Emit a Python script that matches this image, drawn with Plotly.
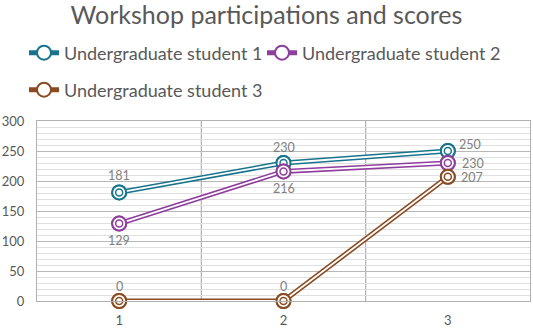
import plotly.graph_objects as go

categories = [1, 2, 3]
names = ["Undergraduate student 1", "Undergraduate student 2", "Undergraduate student 3"]
s1 = [181, 230, 250]
s2 = [129, 216, 230]
s3 = [0, 0, 207]
colors = ["#18748C", "#8E3E9C", "#8A4B22"]
# label placement per series/point: (xanchor, xshift px, yshift px; positive = up)
label_style = [
    [("center", 0, 17), ("center", 0, 16), ("left", 9, 7)],
    [("center", 0, -17), ("center", 0, -17), ("left", 12, 0)],
    [("center", 0, 15), ("center", 0, 15), ("left", 11, -1)],
]
legend_ids = ["legend", "legend", "legend2"]

FONT = "Lato, Noto Sans, sans-serif"
GREY = "#595959"

fig = go.Figure()
annotations = []
for name, ys, col, styles, lg in zip(names, [s1, s2, s3], colors, label_style, legend_ids):
    fig.add_trace(go.Scatter(
        x=categories, y=ys, name=name, mode="lines+markers", legend=lg,
        line=dict(color=col, width=5),
        marker=dict(symbol="circle", size=14, color="white", line=dict(color=col, width=2)),
        cliponaxis=False, showlegend=True))
    fig.add_trace(go.Scatter(
        x=categories, y=ys, mode="lines", line=dict(color="white", width=1.8),
        hoverinfo="skip", showlegend=False, cliponaxis=False))
    fig.add_trace(go.Scatter(
        x=categories, y=ys, mode="markers",
        marker=dict(symbol="circle", size=14, color="white", line=dict(color=col, width=2)),
        hoverinfo="skip", showlegend=False, cliponaxis=False))
    fig.add_trace(go.Scatter(
        x=categories, y=ys, mode="markers",
        marker=dict(symbol="circle-open", size=7, color=col, line=dict(color=col, width=1.5)),
        hoverinfo="skip", showlegend=False, cliponaxis=False))
    for xv, yv, (xa, xs, ysh) in zip(categories, ys, styles):
        annotations.append(dict(x=xv, y=yv, xref="x", yref="y", text=str(yv), showarrow=False,
                                xanchor=xa, yanchor="middle", xshift=xs, yshift=ysh,
                                font=dict(size=12.5, color="#808080", family=FONT)))

shapes = []
for xv in [1.5, 2.5]:
    shapes.append(dict(type="line", xref="x", yref="paper", x0=xv, x1=xv, y0=0, y1=1,
                       line=dict(color="#B0B0B0", width=1.2), layer="below"))
for xv in categories:
    shapes.append(dict(type="line", xref="x", yref="paper", x0=xv, x1=xv, y0=0, y1=1,
                       line=dict(color="white", width=1, dash="dot"), layer="below"))

legend_common = dict(orientation="h", xref="container", x=24 / 533, xanchor="left",
                     yref="container", yanchor="middle",
                     font=dict(size=18, color=GREY, family=FONT), traceorder="normal",
                     entrywidth=193, entrywidthmode="pixels", itemwidth=30,
                     bgcolor="rgba(0,0,0,0)")

fig.update_layout(
    width=533, height=330,
    margin=dict(l=34, r=2, t=121, b=24),
    paper_bgcolor="white", plot_bgcolor="white",
    font=dict(family=FONT, color=GREY),
    title=dict(text="Workshop participations and scores", x=0.5, xanchor="center",
               y=1 - 15 / 330, yanchor="middle", font=dict(size=25, color=GREY, family=FONT)),
    legend=dict(legend_common, y=1 - 53 / 330),
    legend2=dict(legend_common, y=1 - 90 / 330),
    shapes=shapes,
    annotations=annotations,
    xaxis=dict(range=[0.5, 3.5], tickvals=categories, ticktext=[str(c) for c in categories],
               showgrid=False, zeroline=False, showline=True, linecolor="#B0B0B0", mirror=True,
               tickfont=dict(size=13, color=GREY), ticks="", ticklabelstandoff=7),
    yaxis=dict(range=[0, 300], dtick=50, showgrid=True, gridcolor="#B8B8B8", gridwidth=1,
               minor=dict(dtick=10, showgrid=True, gridcolor="#E0E0E0", gridwidth=1),
               zeroline=False, showline=True, linecolor="#B0B0B0", mirror=True,
               tickfont=dict(size=13, color=GREY), ticks="", ticklabelstandoff=9),
)

fig.write_html("out.html", config={"displayModeBar": False},
               post_script="document.body.style.margin='0';")
